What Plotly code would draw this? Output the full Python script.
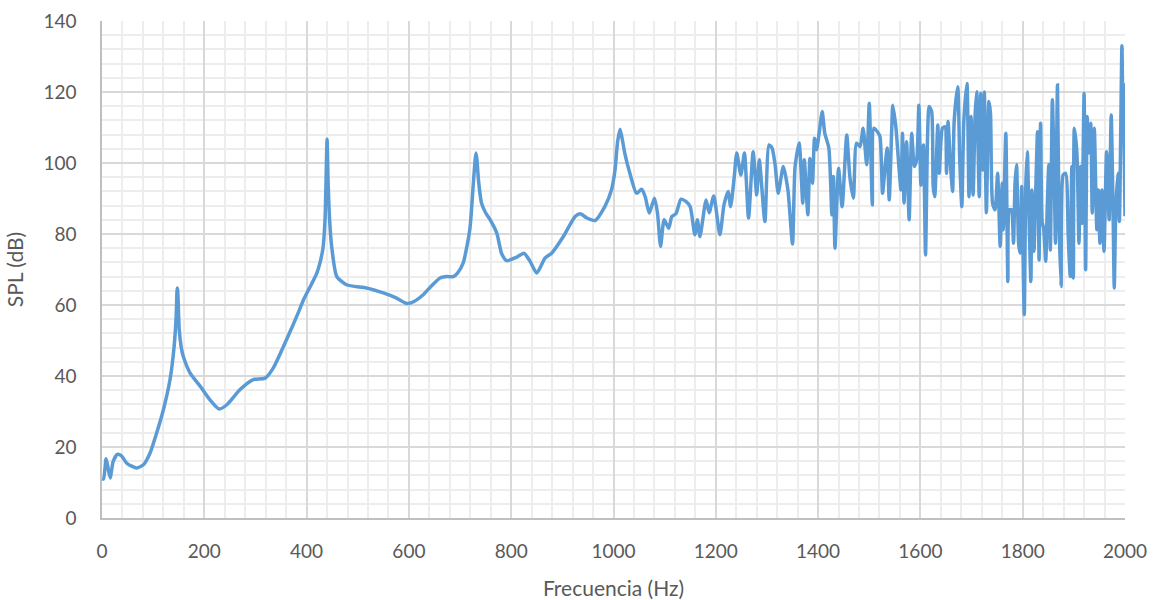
import plotly.graph_objects as go

# Frequency (Hz) and SPL (dB)
freq_low = [0, 3, 8, 12, 16, 22, 30, 38, 48, 58, 68, 81, 94, 107, 120, 133, 141, 145, 147, 148,
            151, 155, 159, 172, 192, 211, 229, 244, 270, 296, 319, 335, 368, 387, 394, 410, 420,
            426, 432, 436, 438, 440, 442, 445, 449, 459, 478, 517, 550, 575, 596, 610, 628, 645,
            661, 675, 687, 695, 706, 719, 726, 729, 731, 733, 736, 742, 750, 759, 772, 781, 791,
            811, 825, 837, 850, 866, 879, 902, 925, 935, 948, 964, 983, 996]
spl_low = [11, 11, 16.7, 14, 11.3, 16, 17.9, 17.5, 15.5, 14.6, 14.1, 15, 18.3, 24, 30.5, 39, 48.3, 56.8, 64.8, 64,
           53, 48, 45.5, 40.9, 37.1, 33.3, 30.7, 31.9, 36.2, 39, 39.4, 42.3, 52.6, 59, 61.5, 66, 69,
           71.8, 76, 84, 95, 106.7, 95, 84, 76.5, 68, 65.7, 64.8, 63.4, 62, 60.4, 61, 62.9, 65.5,
           67.6, 68, 68, 69, 71.8, 81.2, 94.3, 100, 102.8, 101, 95.2, 88.7, 86, 84, 80.2, 74.6, 72.5,
           73.5, 74.6, 72.3, 69, 73.2, 74.6, 79.3, 84.9, 85.7, 84.5, 83.8, 87.7, 92.4]

freq_mid = [1003, 1008, 1013, 1018, 1022, 1032, 1045, 1055, 1062, 1070, 1080, 1086, 1092, 1099, 1108,
            1114, 1122, 1132, 1142, 1150, 1159, 1164, 1169, 1181, 1187, 1196, 1208, 1216, 1224, 1229,
            1236, 1241, 1249, 1256, 1264, 1273, 1280, 1285, 1296, 1304, 1310, 1316, 1322, 1332, 1341,
            1350, 1355, 1363, 1370, 1373, 1380, 1384, 1389, 1393, 1397, 1402, 1408, 1413, 1421, 1427,
            1430, 1433, 1440, 1447, 1456, 1462, 1469, 1475, 1482, 1488]
spl_mid = [98, 106, 109.5, 106, 102.8, 97.1, 91.5, 92.6, 90.5, 85.9, 90.1, 85.9, 76.5, 84, 81.6,
           84.9, 85.7, 89.8, 89.1, 87.7, 79.8, 84, 79.3, 89.6, 86, 90.7, 79.8, 88.2, 92, 87.7,
           96, 102.8, 96.6, 102.8, 84.5, 103.2, 91, 100.9, 83.5, 105.1, 104.2, 99.5, 91.5, 99, 92.4,
           77.2, 99, 105.6, 88.7, 100.9, 85.4, 101.3, 94.3, 107, 103.7, 108.4, 114.5, 108.4, 104.2, 85.4,
           96.2, 76, 98.5, 87.7, 107.9, 96.2, 90.1, 105.6, 104.6, 109.8]

freq_high = [1495, 1500, 1506, 1509, 1516, 1521, 1526, 1531, 1535, 1539, 1544, 1546, 1552, 1557, 1562,
             1565, 1568, 1573, 1578, 1583, 1588, 1593, 1597, 1601, 1606, 1610, 1614, 1617, 1622, 1625,
             1628, 1634, 1637, 1643, 1648, 1651, 1654, 1659, 1663, 1666, 1673, 1677, 1681, 1685, 1691,
             1695, 1699, 1703, 1707, 1710, 1715, 1718, 1722, 1725, 1729, 1734, 1737, 1741, 1746, 1751,
             1756, 1760, 1762, 1767, 1771, 1774, 1778, 1782, 1785, 1788, 1792, 1795, 1798, 1803, 1806,
             1809, 1812, 1816, 1818, 1822, 1825, 1829, 1832, 1835, 1838, 1841, 1845, 1848, 1851, 1854,
             1858, 1862, 1864, 1868, 1871, 1875, 1879, 1884, 1889, 1893, 1896, 1899, 1901, 1906, 1910,
             1913, 1916, 1920, 1923, 1926, 1929, 1933, 1936, 1940, 1945, 1948, 1951, 1955, 1959, 1964,
             1969, 1973, 1977, 1979, 1982, 1986, 1989, 1994, 1996, 1997, 2000]
spl_high = [99.5, 116.8, 88.2, 109.8, 108.8, 107.4, 91.5, 99, 104.2, 89.6, 109.8, 116.3, 110.2, 100.9, 92.4,
            108.4, 88.7, 106, 84, 108.4, 99, 101.3, 116.3, 93.8, 105.1, 74.1, 107.4, 115.9, 114.5, 93.4,
            90.5, 110.7, 97.1, 109.8, 110.2, 97.1, 111.7, 99, 92, 111.7, 121.5, 100.4, 87.7, 112.1, 122.4,
            90.5, 113.1, 91, 113.5, 120.1, 90.5, 119.6, 98, 120, 86, 117.3, 114, 88.7, 86.8, 97.1,
            76.5, 94.3, 81.2, 108.4, 66.6, 86.8, 86.8, 77.4, 94.3, 99.5, 77.4, 74.6, 93.4, 57.3, 93.4,
            103.2, 86.8, 66.6, 92.4, 75.1, 89.6, 108.8, 72.7, 111.2, 83.5, 81.6, 72.3, 87.7, 99.5, 75.5,
            117.8, 93.4, 77.4, 122, 84, 65.2, 96.6, 97.1, 79.3, 68, 99, 67.6, 109.8, 102.8, 77.4,
            99, 83, 119.6, 69.9, 113.1, 102.8, 111.2, 85.9, 109.8, 81.2, 92.4, 77.4, 92.4, 75.1, 103.2,
            84, 113.5, 83, 64.8, 86.8, 97.1, 83.5, 133, 110, 122, 85]

freq = freq_low + freq_mid + freq_high
spl = spl_low + spl_mid + spl_high

x_ticks = [0, 200, 400, 600, 800, 1000, 1200, 1400, 1600, 1800, 2000]
y_ticks = [0, 20, 40, 60, 80, 100, 120, 140]

FONT = "Lato"
TXT = "#595959"

fig = go.Figure(go.Scatter(
    x=freq, y=spl, mode="lines",
    line=dict(color="#5B9BD5", width=3.5, shape="spline", smoothing=0.6),
    hoverinfo="x+y", showlegend=False,
))

fig.update_layout(
    width=1155, height=600,
    margin=dict(l=102, r=30, t=21, b=82, pad=0),
    paper_bgcolor="white", plot_bgcolor="white",
    font=dict(family=FONT, color=TXT, size=18),
)
fig.update_xaxes(
    range=[0, 2000], tickvals=x_ticks, ticktext=[str(v) for v in x_ticks],
    showgrid=True, gridcolor="#d9d9d9", gridwidth=1.5,
    minor=dict(dtick=40, showgrid=True, gridcolor="#ededed", gridwidth=1.6, ticks=""),
    showline=True, linecolor="#bfbfbf", linewidth=1.5, zeroline=False,
    ticks="", ticklabelstandoff=15, automargin=False,
    tickfont=dict(family=FONT, size=19, color=TXT),
    title=dict(text="Frecuencia (Hz)", font=dict(family=FONT, size=21, color=TXT), standoff=22),
)
fig.update_yaxes(
    range=[0, 140], tickvals=y_ticks, ticktext=[str(v) for v in y_ticks],
    showgrid=True, gridcolor="#d9d9d9", gridwidth=1.5,
    minor=dict(dtick=4, showgrid=True, gridcolor="#ededed", gridwidth=1.6, ticks=""),
    showline=True, linecolor="#bfbfbf", linewidth=1.5, zeroline=False,
    ticks="", ticklabelstandoff=20, automargin=False,
    tickfont=dict(family=FONT, size=19, color=TXT),
    title=dict(text="SPL (dB)", font=dict(family=FONT, size=21, color=TXT), standoff=14),
)

fig.write_html("out.html")
